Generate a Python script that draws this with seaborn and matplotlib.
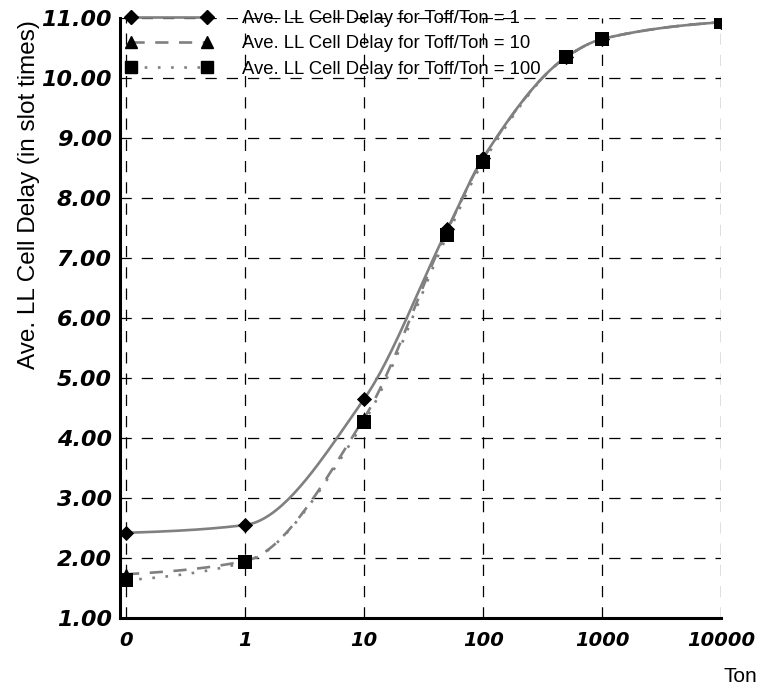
import numpy as np
import pandas as pd
import matplotlib
matplotlib.use("Agg")
import matplotlib.pyplot as plt
from matplotlib.lines import Line2D
from matplotlib.ticker import FixedLocator, NullFormatter
import seaborn as sns

# ================= Data =================
TON = [0, 1, 10, 50, 100, 500, 1000, 10000]
DELAY_R1 = [2.42, 2.55, 4.65, 7.48, 8.67, 10.35, 10.65, 10.93]
DELAY_R10 = [1.73, 1.95, 4.33, 7.46, 8.66, 10.35, 10.65, 10.93]
DELAY_R100 = [1.63, 1.93, 4.27, 7.38, 8.60, 10.35, 10.65, 10.93]

SERIES_NAMES = ["Ave. LL Cell Delay for Toff/Ton = 1",
                "Ave. LL Cell Delay for Toff/Ton = 10",
                "Ave. LL Cell Delay for Toff/Ton = 100"]
X_TICK_LABELS = ["0", "1", "10", "100", "1000", "10000"]
Y_TICKS = [1, 2, 3, 4, 5, 6, 7, 8, 9, 10, 11]

LINE_GRAY = "#808080"
ZERO_POS = 0.1  # "0" sits one decade left of 1 on the log axis


def to_pos(ton):
    t = np.asarray(ton, dtype=float)
    return np.where(t == 0, ZERO_POS, t)


def smooth_curve(xs, ys, n=40):
    # smoothed connecting line (monotone cubic Hermite in log-x space), like Excel's smoothed lines
    x = np.log10(np.asarray(xs, dtype=float))
    y = np.asarray(ys, dtype=float)
    h = np.diff(x)
    delta = np.diff(y) / h
    d = np.zeros_like(y)
    for k in range(1, len(y) - 1):
        if delta[k - 1] * delta[k] > 0:
            w1 = 2 * h[k] + h[k - 1]
            w2 = h[k] + 2 * h[k - 1]
            d[k] = (w1 + w2) / (w1 / delta[k - 1] + w2 / delta[k])
    d[0] = delta[0] * 0.5
    d[-1] = delta[-1] * 0.5
    xs_out, ys_out = [], []
    for k in range(len(y) - 1):
        t = np.linspace(0, 1, n)
        if k > 0:
            t = t[1:]
        h00 = 2 * t ** 3 - 3 * t ** 2 + 1
        h10 = t ** 3 - 2 * t ** 2 + t
        h01 = -2 * t ** 3 + 3 * t ** 2
        h11 = t ** 3 - t ** 2
        xs_out.append(x[k] + t * h[k])
        ys_out.append(h00 * y[k] + h10 * h[k] * d[k] + h01 * y[k + 1] + h11 * h[k] * d[k + 1])
    return pd.DataFrame({"x": 10 ** np.concatenate(xs_out), "y": np.concatenate(ys_out)})


sns.set_style("white")
plt.rcParams["font.family"] = ["Liberation Sans", "DejaVu Sans"]

fig = plt.figure(figsize=(7.62, 6.87), dpi=100)
ax = fig.add_axes([0.1575, 0.1004, 0.789, 0.8734])

xpos = to_pos(TON)
styles = [
    (DELAY_R1, "-", "D", 60),
    (DELAY_R10, (0, (5, 4)), "^", 85),
    (DELAY_R100, (0, (1, 4)), "s", 110),
]

# smoothed lines first
for vals, ls, _, _ in styles:
    curve = smooth_curve(xpos, vals)
    sns.lineplot(data=curve, x="x", y="y", sort=False, estimator=None, ax=ax,
                 color=LINE_GRAY, linewidth=1.9, linestyle=ls, zorder=3)

# markers on top
for vals, _, mk, size in styles:
    sns.scatterplot(x=xpos, y=vals, marker=mk, s=size, color="black",
                    edgecolor="black", linewidth=0, ax=ax, zorder=4)

ax.set_xscale("log")
ax.set_xlim(ZERO_POS / 10 ** (6 / 118.8), 10000)
ax.set_ylim(1, 11)

tick_pos = [ZERO_POS, 1, 10, 100, 1000, 10000]
ax.xaxis.set_major_locator(FixedLocator(tick_pos))
ax.set_xticklabels(X_TICK_LABELS)
ax.xaxis.set_minor_locator(FixedLocator(tick_pos))
ax.xaxis.set_minor_formatter(NullFormatter())
ax.xaxis.remove_overlapping_locs = False

ax.yaxis.set_major_locator(FixedLocator(Y_TICKS))
ax.set_yticklabels([f"{v:.2f}" for v in Y_TICKS])
ax.yaxis.set_minor_locator(FixedLocator(Y_TICKS))
ax.yaxis.set_minor_formatter(NullFormatter())
ax.yaxis.remove_overlapping_locs = False

ax.tick_params(axis="both", which="major", direction="in", length=18, width=1.2,
               color="black")
ax.tick_params(axis="x", which="major", pad=9)
ax.tick_params(axis="y", which="major", pad=6)
ax.tick_params(axis="both", which="minor", direction="out", length=5, width=1.2,
               color="black")
for lab in ax.get_xticklabels():
    lab.set_family("DejaVu Sans")
    lab.set_fontweight("bold")
    lab.set_fontstyle("oblique")
    lab.set_fontsize(14)
    lab.set_color("black")
for lab in ax.get_yticklabels():
    lab.set_family("DejaVu Sans")
    lab.set_fontweight("bold")
    lab.set_fontstyle("oblique")
    lab.set_fontsize(16)
    lab.set_color("black")

ax.grid(True, which="major", color="black", linewidth=0.9, linestyle=(0, (9, 8)))
ax.set_axisbelow(True)

for side in ["top", "right"]:
    ax.spines[side].set_visible(False)
for side in ["left", "bottom"]:
    ax.spines[side].set_color("black")
    ax.spines[side].set_linewidth(2.2)

ax.set_xlabel("Ton", fontsize=15, color="black", va="center")
ax.xaxis.set_label_coords(1.032, -0.097)
ax.set_ylabel("Ave. LL Cell Delay (in slot times)", fontsize=17.5, color="black",
              va="center")
ax.yaxis.set_label_coords(-0.151, 0.705)

handles = [
    Line2D([], [], color=LINE_GRAY, lw=1.9, ls="-", marker="D", ms=7,
           mfc="black", mec="black"),
    Line2D([], [], color=LINE_GRAY, lw=1.9, ls=(0, (5, 4)), marker="^", ms=9,
           mfc="black", mec="black"),
    Line2D([], [], color=LINE_GRAY, lw=1.9, ls=(0, (1, 4)), marker="s", ms=9,
           mfc="black", mec="black"),
]
leg = fig.legend(handles, SERIES_NAMES, loc="upper left",
                 bbox_to_anchor=(0.164, 1 - 10 / 687), frameon=False, fontsize=13.3,
                 numpoints=2, handlelength=4.75, handletextpad=1.6,
                 labelspacing=0.45, borderpad=0, borderaxespad=0, labelcolor="black")

fig.savefig("out.png", dpi=100)
